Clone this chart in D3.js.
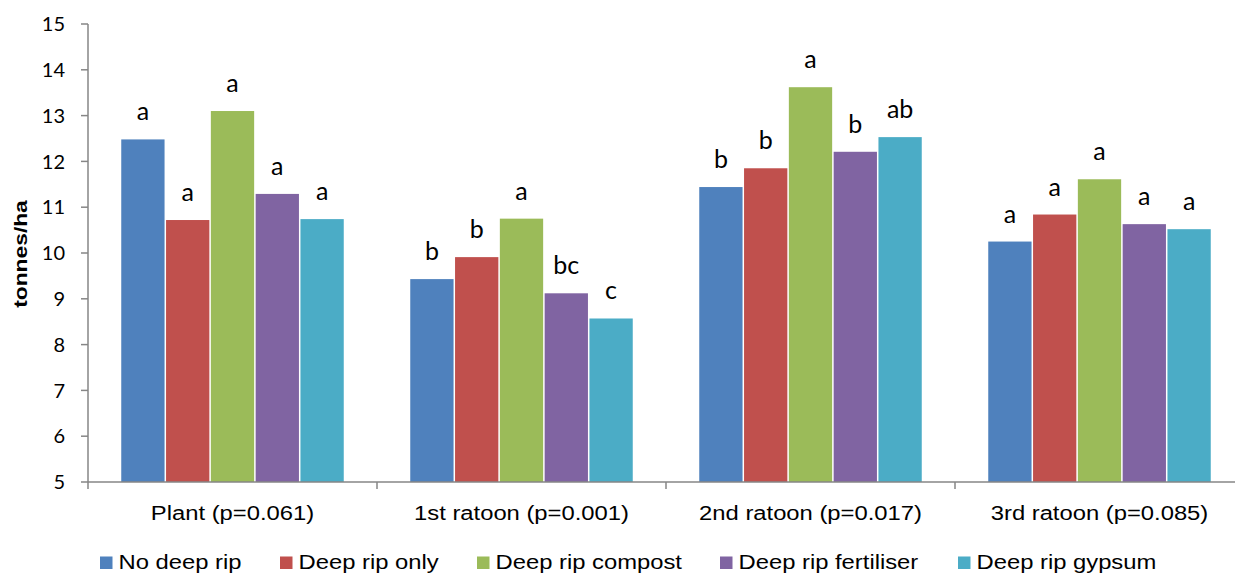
<!DOCTYPE html>
<html>
<head>
<meta charset="utf-8">
<script src="https://cdn.jsdelivr.net/npm/d3@7/dist/d3.min.js"></script>
<style>
  body { margin: 0; background: #fff; }
  svg { display: block; }
</style>
</head>
<body>
<svg id="chart" width="1235" height="574"></svg>
<script>
const categories = ["Plant (p=0.061)", "1st ratoon (p=0.001)", "2nd ratoon (p=0.017)", "3rd ratoon (p=0.085)"];
const seriesNames = ["No deep rip", "Deep rip only", "Deep rip compost", "Deep rip fertiliser", "Deep rip gypsum"];
const seriesColors = ["#4F81BD", "#C0504D", "#9BBB59", "#8064A2", "#4BACC6"];
const noDeepRip      = [12.48, 9.43, 11.44, 10.25];
const deepRipOnly    = [10.72, 9.91, 11.85, 10.84];
const deepRipCompost = [13.10, 10.75, 13.62, 11.61];
const deepRipFert    = [11.29, 9.12, 12.21, 10.63];
const deepRipGypsum  = [10.74, 8.57, 12.53, 10.52];
const letters = [
  ["a", "b", "b", "a"],
  ["a", "b", "b", "a"],
  ["a", "a", "a", "a"],
  ["a", "bc", "b", "a"],
  ["a", "c", "ab", "a"]
];
const yTicks = [5, 6, 7, 8, 9, 10, 11, 12, 13, 14, 15];
const yTitle = "tonnes/ha";

const seriesValues = [noDeepRip, deepRipOnly, deepRipCompost, deepRipFert, deepRipGypsum];

const svg = d3.select("#chart");
const axisColor = "#868686";
const stretch = 1.19;

const x0 = d3.scaleBand().domain(categories).range([88, 88 + 4 * 289]).padding(0);
const x1 = d3.scaleBand().domain(seriesNames).range([32.5, 289 - 32.5]).padding(0);
const y = d3.scaleLinear().domain([5, 15]).range([482, 24]);

// bars
const groups = svg.append("g").selectAll("g")
  .data(categories).join("g")
  .attr("transform", d => `translate(${x0(d)},0)`);

groups.each(function(cat, ci) {
  const g = d3.select(this);
  seriesNames.forEach((s, si) => {
    const v = seriesValues[si][ci];
    g.append("rect")
      .attr("x", x1(s) + 0.75)
      .attr("y", y(v))
      .attr("width", x1.bandwidth() - 1.5)
      .attr("height", y(5) - y(v))
      .attr("fill", seriesColors[si]);
    g.append("text")
      .attr("x", x1(s) + x1.bandwidth() / 2)
      .attr("y", y(v) - 19)
      .attr("text-anchor", "middle")
      .attr("font-family", "Lato, 'Open Sans', sans-serif")
      .attr("font-size", 25)
      .attr("fill", "#000")
      .text(letters[si][ci]);
  });
});

// y axis
const yAxis = svg.append("g");
yAxis.append("line").attr("x1", 88).attr("x2", 88).attr("y1", y(15)).attr("y2", y(5))
  .attr("stroke", axisColor).attr("stroke-width", 1.5);
yTicks.forEach(t => {
  yAxis.append("line").attr("x1", 81).attr("x2", 88).attr("y1", y(t)).attr("y2", y(t))
    .attr("stroke", axisColor).attr("stroke-width", 1.5);
  yAxis.append("text").attr("x", 65).attr("y", y(t)).attr("dy", "0.36em")
    .attr("text-anchor", "end")
    .attr("font-family", "Lato, 'Open Sans', sans-serif")
    .attr("font-size", 20).attr("fill", "#000").text(t);
});

// x axis
const xAxis = svg.append("g");
xAxis.append("line").attr("x1", 88).attr("x2", 1235).attr("y1", y(5)).attr("y2", y(5))
  .attr("stroke", axisColor).attr("stroke-width", 1.5);
const boundaries = categories.map(c => x0(c)).concat([x0(categories[categories.length - 1]) + x0.bandwidth()]);
boundaries.forEach(b => {
  xAxis.append("line").attr("x1", b).attr("x2", b).attr("y1", y(5)).attr("y2", y(5) + 7)
    .attr("stroke", axisColor).attr("stroke-width", 1.5);
});
categories.forEach(c => {
  xAxis.append("text")
    .attr("transform", `translate(${x0(c) + x0.bandwidth() / 2},519.5) scale(${stretch},1)`)
    .attr("text-anchor", "middle")
    .attr("font-family", "'Liberation Sans', Arial, sans-serif")
    .attr("font-size", 20).attr("fill", "#000").text(c);
});

// y title
svg.append("text")
  .attr("transform", `translate(27,254) rotate(-90) scale(1.2,1)`)
  .attr("text-anchor", "middle")
  .attr("font-family", "'Liberation Sans', Arial, sans-serif")
  .attr("font-weight", "bold")
  .attr("font-size", 19).attr("fill", "#000").text(yTitle);

// legend
const legendX = [100, 280, 477, 720, 958];
const legend = svg.append("g");
seriesNames.forEach((s, i) => {
  legend.append("rect").attr("x", legendX[i]).attr("y", 556.5).attr("width", 12.5).attr("height", 12.5)
    .attr("fill", seriesColors[i]);
  legend.append("text")
    .attr("transform", `translate(${legendX[i] + 18.5},568.5) scale(${stretch},1)`)
    .attr("font-family", "'Liberation Sans', Arial, sans-serif")
    .attr("font-size", 20).attr("fill", "#000").text(s);
});
</script>
</body>
</html>
